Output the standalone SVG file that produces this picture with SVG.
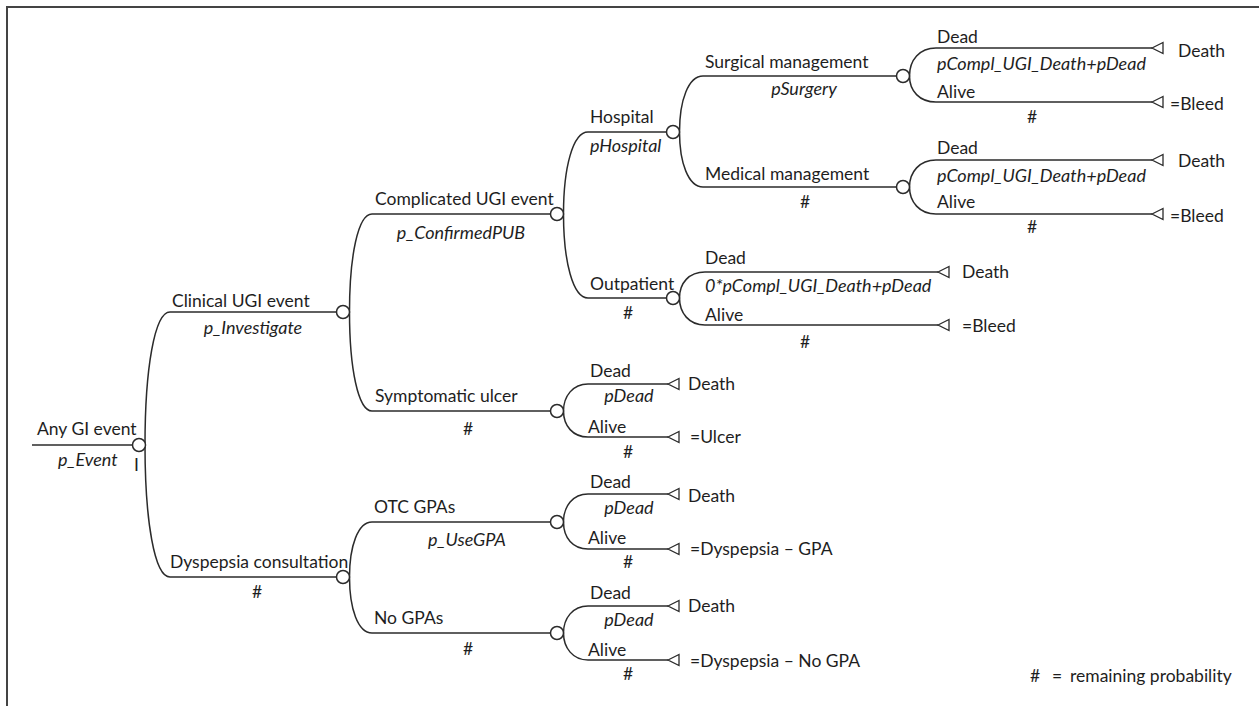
<svg xmlns="http://www.w3.org/2000/svg" xmlns:xlink="http://www.w3.org/1999/xlink" width="1259" height="706" viewBox="0 0 1259 706">
  <style>
    .frame { fill: none; stroke: #444; stroke-width: 2; }
    .branch { fill: none; stroke: #2b2b2b; stroke-width: 1.5; }
    .chance { fill: #fff; stroke: #2b2b2b; stroke-width: 1.5; }
    .term { fill: #fff; stroke: #2b2b2b; stroke-width: 1.3; stroke-linejoin: miter; }
    text { font-family: Lato, "Liberation Sans", sans-serif; font-size: 17.5px; fill: #1e1e1e; }
    .p { font-style: italic; font-size: 18px; }
    .m { text-anchor: middle; }
  </style>
  <defs>
    <circle id="node" r="6.5" class="chance"/>
    <path id="leaf" d="M0,0 L11,-5.5 L11,5.5 Z" class="term"/>
  </defs>

  <rect width="1259" height="706" fill="#fff"/>
  <!-- open frame: left and top edges only -->
  <path class="frame" d="M7,706 V7 H1259"/>

  <g id="connectors">
    <path class="branch" d="M32,445 H132.5"/>
    <path class="branch" d="M145,445 C145,369 154.5,312 170,312 H336.5"/>
    <path class="branch" d="M145,445 C145,521 154.5,577 170,577 H336.5"/>
    <path class="branch" d="M349.5,312 C349.5,256 358,214 372,214 H550.5"/>
    <path class="branch" d="M349.5,312 C349.5,368 358,411 372,411 H550.5"/>
    <path class="branch" d="M349.5,577 C349.5,546 358,522 372,522 H550.5"/>
    <path class="branch" d="M349.5,577 C349.5,609 358,633 372,633 H550.5"/>
    <path class="branch" d="M563.5,214 C563.5,167 573,132 588,132 H666.5"/>
    <path class="branch" d="M563.5,214 C563.5,262 573,298 588,298 H666.5"/>
    <path class="branch" d="M679.5,132 C679.5,100 688.5,76 703,76 H896.5"/>
    <path class="branch" d="M679.5,132 C679.5,163 688.5,187 703,187 H896.5"/>
    <path class="branch" d="M909.5,76 C909.5,60 919.5,48 936,48 H1152"/>
    <path class="branch" d="M909.5,76 C909.5,91 919.5,102 936,102 H1152"/>
    <path class="branch" d="M909.5,187 C909.5,172 919.5,160 936,160 H1152"/>
    <path class="branch" d="M909.5,187 C909.5,202 919.5,214 936,214 H1152"/>
    <path class="branch" d="M679.5,298 C679.5,283 689,272 705,272 H938"/>
    <path class="branch" d="M679.5,298 C679.5,313 689,325 705,325 H938"/>
    <path class="branch" d="M563.5,411 C563.5,396 573,384 588,384 H668"/>
    <path class="branch" d="M563.5,411 C563.5,426 573,437 588,437 H668"/>
    <path class="branch" d="M563.5,522 C563.5,506 573,494 588,494 H668"/>
    <path class="branch" d="M563.5,522 C563.5,538 573,549 588,549 H668"/>
    <path class="branch" d="M563.5,633 C563.5,618 573,606 588,606 H668"/>
    <path class="branch" d="M563.5,633 C563.5,648 573,660 588,660 H668"/>
  </g>

  <g id="any-gi-event">
    <use xlink:href="#node" x="139" y="445"/>
    <text x="37" y="435">Any GI event</text>
    <text class="p" x="58" y="466">p_Event</text>
    <text x="134" y="471">I</text>
  </g>

  <g id="clinical-ugi-event">
    <use xlink:href="#node" x="343" y="312"/>
    <text x="172" y="306.5">Clinical UGI event</text>
    <text class="p m" x="253" y="334">p_Investigate</text>
  </g>

  <g id="dyspepsia-consultation">
    <use xlink:href="#node" x="343" y="577"/>
    <text x="170" y="568">Dyspepsia consultation</text>
    <text class="m" x="257" y="598">#</text>
  </g>

  <g id="complicated-ugi-event">
    <use xlink:href="#node" x="557" y="214"/>
    <text x="375" y="205">Complicated UGI event</text>
    <text class="p m" x="461" y="239">p_ConfirmedPUB</text>
  </g>

  <g id="symptomatic-ulcer">
    <use xlink:href="#node" x="557" y="411"/>
    <text x="375" y="402">Symptomatic ulcer</text>
    <text class="m" x="468" y="435">#</text>
  </g>

  <g id="otc-gpas">
    <use xlink:href="#node" x="557" y="522"/>
    <text x="374" y="513">OTC GPAs</text>
    <text class="p m" x="467" y="546">p_UseGPA</text>
  </g>

  <g id="no-gpas">
    <use xlink:href="#node" x="557" y="633"/>
    <text x="374" y="624">No GPAs</text>
    <text class="m" x="468" y="655">#</text>
  </g>

  <g id="hospital">
    <use xlink:href="#node" x="673" y="132"/>
    <text x="590" y="123">Hospital</text>
    <text class="p" x="590" y="152">pHospital</text>
  </g>

  <g id="outpatient">
    <use xlink:href="#node" x="673" y="298"/>
    <text x="590" y="290">Outpatient</text>
    <text class="m" x="628" y="319">#</text>
  </g>

  <g id="surgical-management">
    <use xlink:href="#node" x="903" y="76"/>
    <text x="705" y="68">Surgical management</text>
    <text class="p m" x="804" y="95">pSurgery</text>
  </g>

  <g id="medical-management">
    <use xlink:href="#node" x="903" y="187"/>
    <text x="705" y="180">Medical management</text>
    <text class="m" x="805" y="208">#</text>
  </g>

  <!-- surgical management outcomes -->
  <g id="surgical-dead">
    <use xlink:href="#leaf" x="1152" y="48"/>
    <text x="937" y="43">Dead</text>
    <text class="p" x="937" y="70">pCompl_UGI_Death+pDead</text>
    <text x="1178" y="57">Death</text>
  </g>
  <g id="surgical-alive">
    <use xlink:href="#leaf" x="1152" y="102"/>
    <text x="937" y="98">Alive</text>
    <text class="m" x="1032" y="123">#</text>
    <text x="1170" y="110">=Bleed</text>
  </g>

  <!-- medical management outcomes -->
  <g id="medical-dead">
    <use xlink:href="#leaf" x="1152" y="160"/>
    <text x="937" y="154">Dead</text>
    <text class="p" x="937" y="182">pCompl_UGI_Death+pDead</text>
    <text x="1178" y="167">Death</text>
  </g>
  <g id="medical-alive">
    <use xlink:href="#leaf" x="1152" y="214"/>
    <text x="937" y="208">Alive</text>
    <text class="m" x="1032" y="233">#</text>
    <text x="1170" y="222">=Bleed</text>
  </g>

  <!-- outpatient outcomes -->
  <g id="outpatient-dead">
    <use xlink:href="#leaf" x="938" y="272"/>
    <text x="705" y="264">Dead</text>
    <text class="p" x="705" y="292">0*pCompl_UGI_Death+pDead</text>
    <text x="962" y="278">Death</text>
  </g>
  <g id="outpatient-alive">
    <use xlink:href="#leaf" x="938" y="325"/>
    <text x="705" y="321">Alive</text>
    <text class="m" x="805" y="348">#</text>
    <text x="962" y="332">=Bleed</text>
  </g>

  <!-- symptomatic ulcer outcomes -->
  <g id="ulcer-dead">
    <use xlink:href="#leaf" x="668" y="384"/>
    <text x="590" y="377">Dead</text>
    <text class="p m" x="629" y="402">pDead</text>
    <text x="688" y="390">Death</text>
  </g>
  <g id="ulcer-alive">
    <use xlink:href="#leaf" x="668" y="437"/>
    <text x="588" y="433">Alive</text>
    <text class="m" x="628" y="458">#</text>
    <text x="690" y="443">=Ulcer</text>
  </g>

  <!-- OTC GPA outcomes -->
  <g id="otc-dead">
    <use xlink:href="#leaf" x="668" y="494"/>
    <text x="590" y="488">Dead</text>
    <text class="p m" x="629" y="514">pDead</text>
    <text x="688" y="502">Death</text>
  </g>
  <g id="otc-alive">
    <use xlink:href="#leaf" x="668" y="549"/>
    <text x="588" y="544">Alive</text>
    <text class="m" x="628" y="568">#</text>
    <text x="690" y="555">=Dyspepsia – GPA</text>
  </g>

  <!-- no GPA outcomes -->
  <g id="nogpa-dead">
    <use xlink:href="#leaf" x="668" y="606"/>
    <text x="590" y="599">Dead</text>
    <text class="p m" x="629" y="626">pDead</text>
    <text x="688" y="612">Death</text>
  </g>
  <g id="nogpa-alive">
    <use xlink:href="#leaf" x="668" y="660"/>
    <text x="588" y="656">Alive</text>
    <text class="m" x="628" y="680">#</text>
    <text x="690" y="667">=Dyspepsia – No GPA</text>
  </g>

  <g id="legend">
    <text y="682"><tspan x="1030">#</tspan><tspan x="1052">=</tspan><tspan x="1070">remaining probability</tspan></text>
  </g>
</svg>
